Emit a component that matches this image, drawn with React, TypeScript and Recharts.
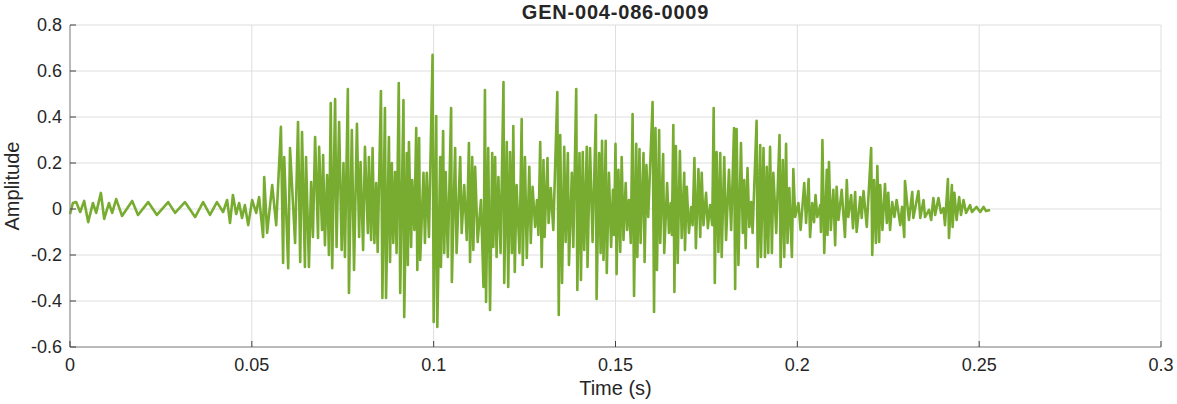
import { LineChart, Line, XAxis, YAxis, CartesianGrid } from "recharts";

// time in milliseconds, amplitude (peaks and troughs)
const timeMs = [
  0, 0.8, 1.7, 2.8, 3.9, 5.0, 6.3, 7.2, 8.5, 9.4, 10.7, 11.6, 12.7, 14.3, 17.1, 18.7, 21.5, 23.9, 27.0, 28.9,
  31.6, 34.4, 36.6, 38.5, 40.4, 42.1, 43.2, 44.0, 44.8, 45.7, 46.5, 47.3, 48.1, 49.0, 50.1, 51.2, 52.0, 53.1, 53.4, 54.2,
  55.6, 56.7, 58.0, 58.6, 58.9, 60.0, 60.5, 61.9, 62.7, 63.3, 63.8, 64.6, 64.9, 65.7, 66.3, 66.8, 67.4, 68.2, 68.5, 69.3,
  69.6, 70.1, 70.7, 71.2, 71.7, 72.1, 72.9, 73.3, 74.0, 74.7, 75.2, 75.6, 76.4, 76.7, 77.5, 78.1, 78.9, 79.5, 79.9, 80.6,
  81.1, 81.9, 82.2, 82.8, 83.2, 83.7, 84.2, 84.6, 85.5, 85.9, 86.6, 86.9, 87.7, 88.0, 88.5, 88.9, 89.4, 89.8, 90.4, 90.8,
  91.7, 91.9, 92.6, 92.9, 93.2, 93.8, 94.1, 94.7, 95.2, 95.5, 96.0, 96.3, 97.2, 97.6, 98.1, 98.7, 99.7, 100.0, 100.7, 101.0,
  101.8, 102.0, 102.6, 102.9, 103.3, 103.9, 104.8, 105.0, 105.9, 106.3, 107.3, 107.7, 108.4, 109.1, 109.7, 110.0, 110.6, 110.9, 111.4, 112.1,
  113.0, 113.7, 114.1, 114.4, 115.0, 115.5, 116.1, 116.4, 116.9, 117.3, 117.8, 118.4, 119.2, 119.4, 120.1, 120.5, 121.0, 121.5, 121.9, 122.3,
  122.8, 123.6, 124.2, 124.5, 125.1, 125.6, 126.3, 126.7, 127.2, 127.9, 128.4, 128.8, 129.3, 129.7, 130.2, 130.5, 131.3, 131.6, 132.2, 132.9,
  134.0, 134.4, 134.8, 135.3, 135.9, 136.3, 136.9, 137.2, 138.0, 138.4, 139.2, 139.5, 140.1, 140.5, 141.0, 141.4, 142.1, 142.3, 143.0, 143.7,
  144.6, 144.8, 145.5, 145.9, 146.3, 146.7, 147.3, 147.6, 148.2, 148.8, 149.3, 149.6, 150.0, 150.3, 150.8, 151.3, 151.7, 152.2, 152.8, 153.2,
  153.7, 154.2, 154.7, 155.1, 155.7, 156.0, 156.6, 156.9, 157.7, 158.0, 158.5, 159.0, 160.2, 160.6, 161.0, 161.4, 162.0, 162.3, 163.1, 163.4,
  164.2, 164.7, 165.2, 165.5, 165.9, 166.2, 166.6, 167.1, 167.7, 168.2, 168.9, 169.1, 169.6, 170.2, 170.8, 171.2, 171.7, 172.1, 172.8, 173.3,
  173.7, 174.2, 174.9, 175.4, 176.0, 176.6, 177.0, 177.3, 177.8, 178.3, 178.8, 179.2, 179.9, 180.4, 181.2, 181.8, 182.6, 182.9, 183.3, 183.8,
  184.5, 185.0, 185.4, 185.8, 186.3, 186.8, 187.3, 187.7, 188.8, 189.1, 189.8, 190.0, 190.7, 191.1, 191.6, 192.0, 192.5, 193.0, 193.4, 194.2,
  195.1, 195.4, 196.0, 196.4, 196.9, 197.3, 197.8, 198.5, 198.9, 199.4, 200.3, 200.9, 201.9, 202.4, 203.1, 203.5, 204.1, 204.6, 205.0, 205.5,
  206.3, 206.5, 206.9, 207.4, 208.1, 208.3, 208.7, 209.2, 209.9, 210.4, 210.8, 211.3, 212.2, 213.1, 213.6, 214.0, 214.8, 215.3, 215.9, 216.3,
  217.3, 217.7, 218.2, 219.1, 220.3, 220.6, 221.1, 221.6, 222.0, 222.5, 222.8, 223.4, 224.1, 224.6, 225.0, 225.5, 226.1, 226.7, 227.3, 228.3,
  228.8, 229.4, 229.6, 230.3, 230.7, 231.6, 231.9, 233.3, 233.8, 234.7, 235.1, 236.2, 236.8, 237.4, 237.9, 238.8, 239.5, 240.2, 240.6, 241.4,
  241.7, 242.5, 242.7, 243.2, 243.8, 244.5, 245.0, 245.7, 246.4, 247.5, 248.0, 249.3, 250.3, 251.2, 251.9, 253.0,
];

const amplitude = [
  -0.022, 0.026, 0.03, -0.013, 0.035, -0.057, 0.026, -0.017, 0.07, -0.043, 0.026, -0.017, 0.043, -0.03, 0.035, -0.026, 0.03, -0.026, 0.03, -0.017,
  0.03, -0.035, 0.03, -0.026, 0.03, -0.013, 0.039, -0.061, 0.061, -0.022, 0.026, -0.039, 0.017, -0.07, 0.039, -0.017, 0.052, -0.122, 0.139, -0.104,
  0.104, -0.07, 0.357, -0.235, 0.226, -0.257, 0.265, -0.148, 0.378, -0.23, 0.335, -0.252, 0.226, -0.252, 0.117, -0.122, 0.313, -0.126, 0.27, -0.091,
  0.235, -0.157, 0.148, -0.2, 0.461, -0.257, 0.478, -0.165, 0.378, -0.178, 0.2, -0.209, 0.522, -0.365, 0.343, -0.265, 0.37, -0.122, 0.204, -0.178,
  0.27, -0.104, 0.226, -0.135, 0.265, -0.148, 0.113, -0.187, 0.513, -0.387, 0.439, -0.387, 0.313, -0.23, 0.2, -0.148, 0.161, -0.191, 0.548, -0.365,
  0.474, -0.47, 0.243, -0.243, 0.291, -0.165, 0.126, -0.091, 0.352, -0.265, 0.309, -0.222, 0.157, -0.148, 0.157, -0.122, 0.67, -0.491, 0.404, -0.513,
  0.226, -0.252, 0.339, -0.191, 0.161, -0.209, 0.439, -0.317, 0.265, -0.191, 0.226, -0.104, 0.104, -0.135, 0.287, -0.23, 0.226, -0.178, 0.183, -0.143,
  0.039, -0.339, 0.517, -0.404, 0.265, -0.439, 0.243, -0.165, 0.226, -0.209, 0.139, -0.191, 0.552, -0.322, 0.291, -0.339, 0.248, -0.191, 0.361, -0.274,
  0.104, -0.191, 0.391, -0.243, 0.226, -0.213, 0.183, -0.148, 0.096, -0.078, 0.039, -0.113, 0.291, -0.252, 0.213, -0.122, 0.222, -0.061, 0.091, -0.091,
  0.509, -0.461, 0.322, -0.322, 0.27, -0.143, 0.243, -0.243, 0.157, -0.165, 0.522, -0.352, 0.243, -0.309, 0.248, -0.178, 0.27, -0.252, 0.265, -0.143,
  0.409, -0.391, 0.243, -0.191, 0.296, -0.222, 0.296, -0.278, 0.157, -0.165, 0.083, -0.113, 0.283, -0.283, 0.17, -0.187, 0.226, -0.135, 0.113, -0.091,
  0.039, -0.148, 0.413, -0.378, 0.283, -0.209, 0.261, -0.148, 0.243, -0.23, 0.191, -0.035, 0.465, -0.448, 0.352, -0.265, 0.343, -0.148, 0.239, -0.191,
  0.113, -0.104, 0.026, -0.113, 0.365, -0.361, 0.274, -0.235, 0.252, -0.126, 0.157, -0.178, 0.096, -0.104, 0.009, -0.07, 0.222, -0.17, 0.174, -0.122,
  0.157, -0.07, 0.07, -0.083, 0.017, -0.07, 0.439, -0.322, 0.248, -0.187, 0.243, -0.209, 0.226, -0.135, 0.17, -0.091, 0.352, -0.348, 0.348, -0.243,
  0.287, -0.104, 0.126, -0.17, 0.178, -0.078, 0.03, -0.104, 0.383, -0.252, 0.278, -0.209, 0.265, -0.209, 0.183, -0.191, 0.27, -0.191, 0.157, -0.104,
  0.322, -0.252, 0.213, -0.209, 0.283, -0.148, 0.091, -0.209, 0.174, -0.035, 0.026, -0.091, 0.113, -0.061, 0.13, -0.122, 0.026, -0.057, 0.061, -0.035,
  0.017, -0.1, 0.3, -0.191, 0.17, -0.113, 0.204, -0.091, 0.083, -0.157, 0.096, -0.048, 0.083, -0.122, 0.126, -0.035, 0.061, -0.083, 0.074, -0.1,
  0.052, -0.039, 0.078, -0.078, 0.265, -0.2, 0.126, -0.148, 0.187, -0.143, 0.104, -0.091, 0.109, -0.061, 0.07, -0.091, 0.03, -0.035, 0.039, -0.07,
  0.009, -0.122, 0.122, 0.009, -0.048, 0.074, -0.039, 0.078, -0.039, 0.039, -0.035, -0.004, -0.048, 0.048, -0.026, 0.048, -0.017, 0.004, -0.07, 0.13,
  -0.126, 0.104, -0.078, 0.07, -0.048, 0.052, -0.026, 0.039, -0.017, 0.017, -0.013, 0.009, -0.013, 0.009, -0.009, -0.004,
];

const xTicks = [0, 0.05, 0.1, 0.15, 0.2, 0.25, 0.3];
const yTicks = [-0.6, -0.4, -0.2, 0, 0.2, 0.4, 0.6, 0.8];

const chartTitle = "GEN-004-086-0009";
const xLabel = "Time (s)";
const yLabel = "Amplitude";

const FONT = '"Liberation Sans", Arial, sans-serif';
const TEXT = "#262626";
const FRAME = "#858585";
const TICK = "#404040";
const LINE = "#77AC30";

const data = timeMs.map((t, i) => ({ t: t / 1000, a: amplitude[i] }));

function BottomTick(props: any) {
  const { x, y, payload } = props;
  const axisY = y - 11;
  return (
    <g>
      <line x1={x} x2={x} y1={axisY} y2={axisY - 6} stroke={TICK} />
      <text x={x} y={y} dy="0.71em" textAnchor="middle" fill={TEXT} fontSize={18} fontFamily={FONT}>
        {String(payload.value)}
      </text>
    </g>
  );
}

function LeftTick(props: any) {
  const { x, y, payload } = props;
  const axisX = x + 8;
  return (
    <g>
      <line x1={axisX} x2={axisX + 6} y1={y} y2={y} stroke={TICK} />
      <text x={x} y={y} dy="0.355em" textAnchor="end" fill={TEXT} fontSize={18} fontFamily={FONT}>
        {String(payload.value)}
      </text>
    </g>
  );
}

function TopTick(props: any) {
  const { x, y } = props;
  return <line x1={x} x2={x} y1={y} y2={y + 6} stroke={TICK} />;
}

function RightTick(props: any) {
  const { x, y } = props;
  return <line x1={x} x2={x - 6} y1={y} y2={y} stroke={TICK} />;
}

export default function App() {
  return (
    <div
      style={{
        position: "absolute",
        left: 0,
        top: 0,
        width: 1177,
        height: 404,
        background: "#fff",
        fontFamily: FONT,
      }}
    >
      <div
        style={{
          position: "absolute",
          left: 70,
          top: 2,
          width: 1091,
          textAlign: "center",
          fontSize: 20,
          lineHeight: "20px",
          fontWeight: "bold",
          letterSpacing: 0.8,
          color: TEXT,
        }}
      >
        {chartTitle}
      </div>
      <LineChart width={1177} height={404} data={data} margin={{ top: 25, right: 16, bottom: 0, left: 10 }}>
        <CartesianGrid stroke="#dedede" />
        <XAxis
          dataKey="t"
          type="number"
          domain={[0, 0.3]}
          ticks={xTicks}
          interval={0}
          height={57}
          tickSize={0}
          tickMargin={11}
          tickLine={false}
          axisLine={{ stroke: FRAME }}
          tick={(p: any) => <BottomTick {...p} />}
          label={{ value: xLabel, position: "insideBottom", offset: 9, fill: TEXT, fontSize: 20, fontFamily: FONT }}
        />
        <XAxis
          xAxisId="top"
          orientation="top"
          type="number"
          domain={[0, 0.3]}
          ticks={xTicks}
          interval={0}
          height={0}
          tickSize={0}
          tickMargin={0}
          tickLine={false}
          axisLine={{ stroke: FRAME }}
          tick={(p: any) => <TopTick {...p} />}
        />
        <YAxis
          type="number"
          domain={[-0.6, 0.8]}
          ticks={yTicks}
          interval={0}
          width={60}
          tickSize={0}
          tickMargin={8}
          tickLine={false}
          axisLine={{ stroke: FRAME }}
          tick={(p: any) => <LeftTick {...p} />}
          label={{
            value: yLabel,
            angle: -90,
            position: "insideLeft",
            offset: 2,
            fill: TEXT,
            fontSize: 20,
            fontFamily: FONT,
            style: { textAnchor: "middle" },
          }}
        />
        <YAxis
          yAxisId="right"
          orientation="right"
          type="number"
          domain={[-0.6, 0.8]}
          ticks={yTicks}
          interval={0}
          width={0}
          tickSize={0}
          tickMargin={0}
          tickLine={false}
          axisLine={{ stroke: FRAME }}
          tick={(p: any) => <RightTick {...p} />}
        />
        <Line
          type="linear"
          dataKey="a"
          stroke={LINE}
          strokeWidth={2.6}
          strokeLinejoin="round"
          dot={false}
          activeDot={false}
          isAnimationActive={false}
        />
      </LineChart>
    </div>
  );
}
